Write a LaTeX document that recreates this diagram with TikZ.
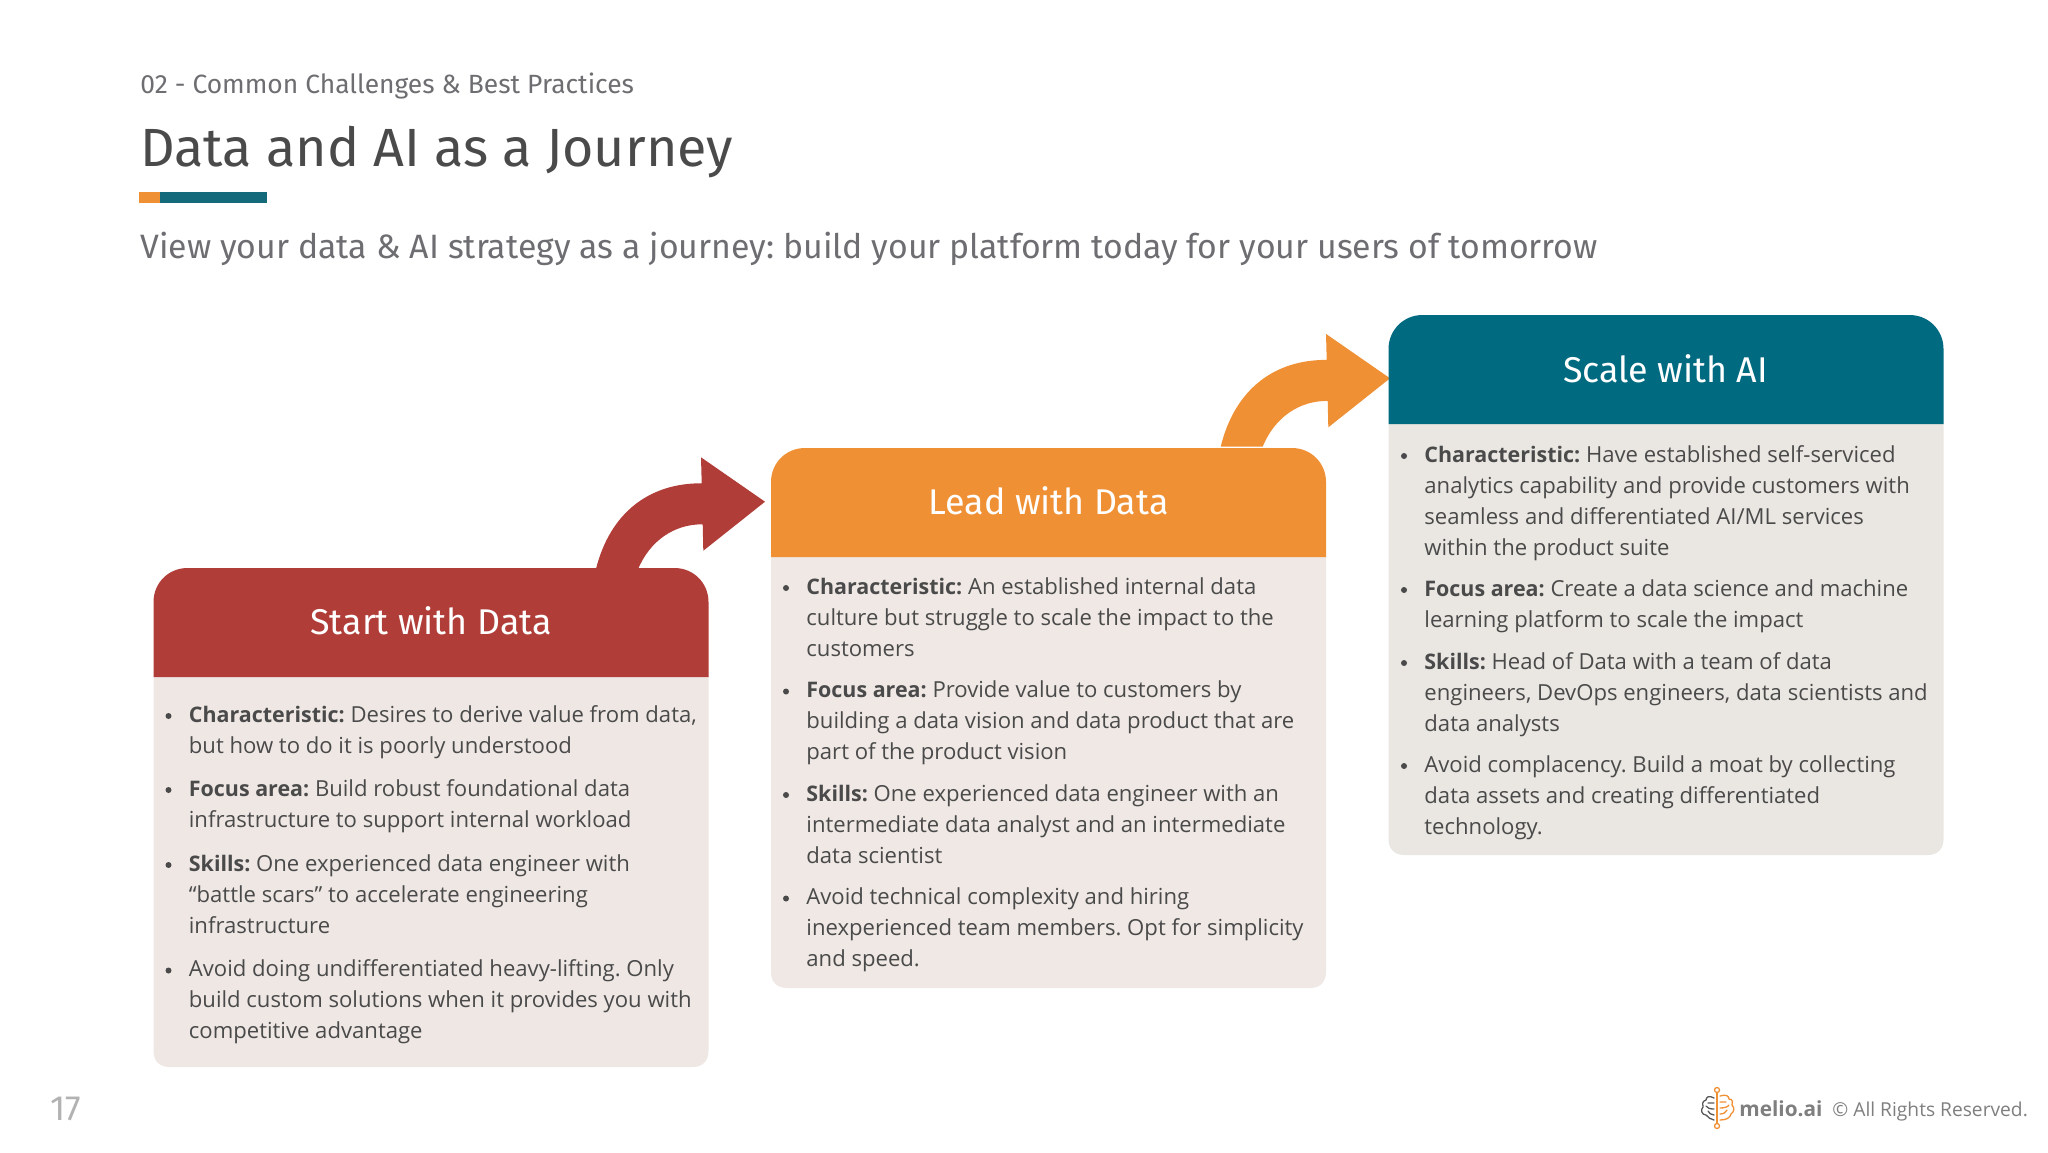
\documentclass[tikz,border=0pt]{standalone}
\usepackage{fontspec}
\setmainfont{Open Sans}
\newfontfamily\headfont{Fira Sans}
\definecolor{cRed}{HTML}{B03D38}
\definecolor{cOrange}{HTML}{EF9035}
\definecolor{cTeal}{HTML}{006B80}
\definecolor{cBarTeal}{HTML}{14697A}
\definecolor{cBodyA}{HTML}{EEE7E4}
\definecolor{cBodyB}{HTML}{EFE8E4}
\definecolor{cBodyC}{HTML}{EAE7E2}
\definecolor{cTxt}{HTML}{4A4A4A}
\definecolor{cSub}{HTML}{6E6E72}
\definecolor{cGrey}{HTML}{7F7F7F}
\newcommand{\lbl}[1]{{\fontsize{10.72}{15.5}\selectfont\bfseries #1}}
\tikzset{
  x=0.5pt,y=-0.5pt,
  headlabel/.style={text=white,font=\headfont\fontsize{17.9}{20}\selectfont,inner sep=0pt},
  bodytext/.style={anchor=base west,inner sep=0pt,text=cTxt,font=\fontsize{11.05}{15.5}\selectfont\frenchspacing},
  bulletdot/.style={circle,fill=cTxt,inner sep=0pt,minimum size=3pt},
  brainline/.style={line width=0.65pt,line cap=round,line join=round},
}
\newcommand{\stagebody}[4]{% x, hdr bottom, bottom, colour
  \fill[#4] (#1,#2) -- (#1,#3-16) .. controls (#1,#3-6) and (#1+6,#3) .. (#1+16,#3) -- (#1+539,#3) .. controls (#1+549,#3) and (#1+555,#3-6) .. (#1+555,#3-16) -- (#1+555,#2) -- cycle;
}
\newcommand{\headbox}[4]{% x, top, bottom, colour
  \fill[#4] (#1,#3) -- (#1,#2+34) .. controls (#1,#2+15) and (#1+15,#2) .. (#1+34,#2) -- (#1+521,#2) .. controls (#1+540,#2) and (#1+555,#2+15) .. (#1+555,#2+34) -- (#1+555,#3) -- cycle;
}
\newcommand{\itm}[4]{% x(bullet), y(base), text, name
  \node[bulletdot] at (#1,#2-6) {};
  \node[bodytext] (#4) at (#1+20,#2) {\parbox[t]{280pt}{#3}};
}
\newcommand{\bentarrow}[3]{% tip x, tip y, colour
  \fill[#3,shift={(#1-765,#2-501.7)}] (595.7,570) .. controls (610,512) and (650,483) .. (701.7,483.3) -- (701,457.3) -- (765,501.7) -- (703.3,550.7) -- (702.7,524.3) .. controls (675,524) and (650,540) .. (637.7,570) -- cycle;
}
\begin{document}
\begin{tikzpicture}
\useasboundingbox (0,0) rectangle (2048,1152);
\fill[white] (0,0) rectangle (2048,1152);
% heading
\node[anchor=base west,inner sep=0pt,text=cSub,font=\headfont\fontsize{13.2}{15}\selectfont] (crumb) at (140,93.5) {02 - Common Challenges \& Best Practices};
\node[anchor=base west,inner sep=0pt,text=cTxt,font=\headfont\fontsize{26.9}{30}\selectfont] (title) at (140,166) {Data and AI as a Journey};
\fill[cOrange] (139,192) rectangle (160,203);
\fill[cBarTeal] (160,192) rectangle (267,203);
\node[anchor=base west,inner sep=0pt,text=cSub,font=\headfont\fontsize{16.9}{20}\selectfont\frenchspacing] (subtitle) at (140,258.5) {View your data \& AI strategy as a journey: build your platform today for your users of tomorrow};
% arrows
\bentarrow{765}{501.7}{cRed}
\bentarrow{1390}{378.3}{cOrange}
% stage 1
\stagebody{153.5}{676}{1067}{cBodyA}
\headbox{153.5}{568}{677}{cRed}
\node[headlabel] (starthead) at (431,621) {Start with Data};
\itm{168.5}{722}{\lbl{Characteristic:} Desires to derive value from data,\\but how to do it is poorly understood}{a1}
\itm{168.5}{796}{\lbl{Focus area:} Build robust foundational data\\infrastructure to support internal workload}{a2}
\itm{168.5}{871}{\lbl{Skills:} One experienced data engineer with\\“battle scars” to accelerate engineering\\infrastructure}{a3}
\itm{168.5}{976.5}{Avoid doing undifferentiated heavy-lifting. Only\\build custom solutions when it provides you with\\competitive advantage}{a4}
% stage 2
\stagebody{771}{556}{988}{cBodyB}
\headbox{771}{448}{557}{cOrange}
\node[headlabel] (leadhead) at (1048.5,500.5) {Lead with Data};
\itm{786}{594}{\lbl{Characteristic:} An established internal data\\culture but struggle to scale the impact to the\\customers}{b1}
\itm{786}{697.5}{\lbl{Focus area:} Provide value to customers by\\building a data vision and data product that are\\part of the product vision}{b2}
\itm{786}{801}{\lbl{Skills:} One experienced data engineer with an\\intermediate data analyst and an intermediate\\data scientist}{b3}
\itm{786}{904.5}{Avoid technical complexity and hiring\\inexperienced team members. Opt for simplicity\\and speed.}{b4}
% stage 3
\stagebody{1388.5}{423}{855}{cBodyC}
\headbox{1388.5}{315}{424}{cTeal}
\node[headlabel] (scalehead) at (1665.5,368.5) {Scale with AI};
\itm{1404}{462}{\lbl{Characteristic:} Have established self-serviced\\analytics capability and provide customers with\\seamless and differentiated AI/ML services\\within the product suite}{c1}
\itm{1404}{596}{\lbl{Focus area:} Create a data science and machine\\learning platform to scale the impact}{c2}
\itm{1404}{669}{\lbl{Skills:} Head of Data with a team of data\\engineers, DevOps engineers, data scientists and\\data analysts}{c3}
\itm{1404}{772}{Avoid complacency. Build a moat by collecting\\data assets and creating differentiated\\technology.}{c4}
% footer
\node[anchor=base west,inner sep=0pt,text=black!30,font=\headfont\fontsize{17.5}{20}\selectfont] (page) at (50,1120.5) {17};
\node[anchor=base west,inner sep=0pt,text=cGrey,font=\fontsize{10.4}{12}\selectfont\bfseries] (brand) at (1739,1116) {melio.ai};
\node[anchor=base west,inner sep=0pt,text=cGrey,font=\fontsize{9.6}{12}\selectfont] (rights) at (1832,1116) {© All Rights Reserved.};
% logo
\draw[cOrange,brainline] (1717,1092) -- (1717,1125);
\draw[cOrange,brainline,fill=white] (1717,1090) circle (2.5) (1717,1126) circle (2.5);
\draw[cOrange,brainline] (1720,1096) .. controls (1726,1094) and (1729,1096) .. (1729,1099) .. controls (1733,1099) and (1733,1103) .. (1732,1105) .. controls (1735,1108) and (1734,1112) .. (1731,1114) .. controls (1730,1118) and (1726,1120) .. (1720,1120)
  (1720,1102) -- (1726,1102) (1720,1108) .. controls (1724,1108) and (1728,1107) .. (1729,1105) (1720,1114) .. controls (1724,1114) and (1726,1112) .. (1727,1110);
\draw[black!65,brainline] (1714,1098) .. controls (1709,1095) and (1706,1097) .. (1706,1100) .. controls (1702,1101) and (1702,1105) .. (1703,1107) .. controls (1700,1110) and (1702,1115) .. (1706,1115) .. controls (1708,1118) and (1711,1119) .. (1714,1120)
  (1714,1103) -- (1708,1103) (1714,1109) .. controls (1710,1109) and (1707,1108) .. (1706,1106) (1714,1115) .. controls (1711,1115) and (1709,1113) .. (1708,1111);
\end{tikzpicture}
\end{document}
